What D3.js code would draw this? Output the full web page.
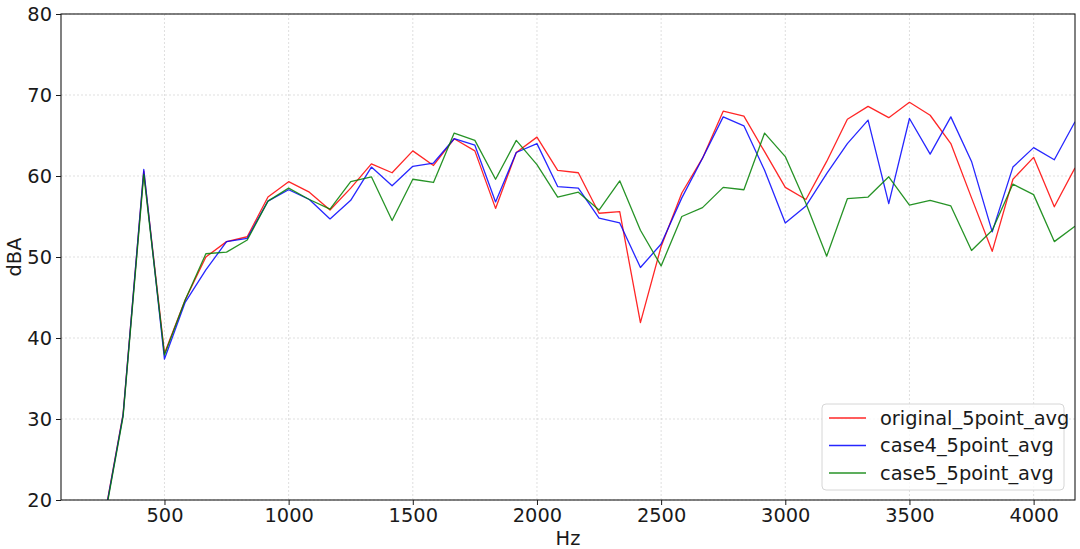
<!DOCTYPE html>
<html>
<head>
<meta charset="utf-8">
<script src="https://cdn.jsdelivr.net/npm/d3@7"></script>
<style>
  body { margin: 0; background: #fff; }
  text { font-family: "DejaVu Sans", sans-serif; fill: #1a1a1a; }
</style>
</head>
<body>
<div class="chart"></div>
<script>
const svgWidth = 1080
const svgHeight = 549
const fontSize = "19.4px"

// frequency bins (Hz)
const freqs = [250, 333.33, 416.67, 500, 583.33, 666.67, 750, 833.33, 916.67, 1000,
  1083.33, 1166.67, 1250, 1333.33, 1416.67, 1500, 1583.33, 1666.67, 1750, 1833.33,
  1916.67, 2000, 2083.33, 2166.67, 2250, 2333.33, 2416.67, 2500, 2583.33, 2666.67,
  2750, 2833.33, 2916.67, 3000, 3083.33, 3166.67, 3250, 3333.33, 3416.67, 3500,
  3583.33, 3666.67, 3750, 3833.33, 3916.67, 4000, 4083.33, 4166.67]

const original = [16.5, 30.6, 60.6, 38.1, 44.7, 50.0, 51.9, 52.5, 57.4, 59.3,
  58.0, 55.8, 58.5, 61.5, 60.4, 63.1, 61.3, 64.6, 63.1, 56.0,
  62.9, 64.8, 60.7, 60.4, 55.4, 55.6, 41.9, 51.3, 57.9, 62.2,
  68.0, 67.4, 63.0, 58.6, 57.1, 61.8, 67.0, 68.6, 67.2, 69.1,
  67.5, 64.0, 57.3, 50.7, 59.6, 62.3, 56.2, 61.0]

const case4 = [16.4, 30.5, 60.8, 37.4, 44.4, 48.4, 51.9, 52.3, 56.9, 58.3,
  57.1, 54.7, 57.0, 61.1, 58.8, 61.2, 61.6, 64.6, 63.8, 56.8,
  62.9, 64.0, 58.7, 58.5, 54.8, 54.2, 48.7, 51.6, 57.3, 62.2,
  67.3, 66.2, 60.7, 54.2, 56.3, 60.3, 64.0, 66.9, 56.6, 67.1,
  62.7, 67.3, 61.8, 53.1, 61.1, 63.5, 62.0, 66.7]

const case5 = [16.2, 30.3, 60.2, 37.9, 44.7, 50.4, 50.6, 52.1, 56.9, 58.5,
  57.1, 55.9, 59.3, 59.9, 54.5, 59.6, 59.2, 65.3, 64.4, 59.6,
  64.4, 61.4, 57.4, 58.0, 55.8, 59.4, 53.3, 48.9, 55.0, 56.1,
  58.6, 58.3, 65.3, 62.4, 56.6, 50.1, 57.2, 57.4, 59.9, 56.4,
  57.0, 56.3, 50.8, 53.3, 59.0, 57.7, 51.9, 53.8]

const seriesNames = ["original_5point_avg", "case4_5point_avg", "case5_5point_avg"]
const seriesColors = ["#ff0000", "#0000ff", "#008000"]
const seriesValues = [original, case4, case5]

const xTicks = [500, 1000, 1500, 2000, 2500, 3000, 3500, 4000]
const yTicks = [20, 30, 40, 50, 60, 70, 80]

let margin = { top: 14, right: 5, bottom: 49, left: 61 }
let width = svgWidth - margin.left - margin.right
let height = svgHeight - margin.top - margin.bottom

let svg = d3.select(".chart")
  .append("svg")
  .attr("width", svgWidth)
  .attr("height", svgHeight)

let chartGroup = svg.append("g")
  .attr("transform", `translate(${margin.left}, ${margin.top})`)

let x = d3.scaleLinear().domain([83.33, 4166.67]).range([0, width])
let y = d3.scaleLinear().domain([20, 80]).range([height, 0])

// grid
chartGroup.append("g")
  .selectAll("line")
  .data(xTicks)
  .enter()
  .append("line")
  .attr("x1", d => x(d)).attr("x2", d => x(d))
  .attr("y1", 0).attr("y2", height)
  .attr("stroke", "#b0b0b0").attr("stroke-opacity", 0.5)
  .attr("stroke-width", 0.8).attr("stroke-dasharray", "2,2")

chartGroup.append("g")
  .selectAll("line")
  .data(yTicks)
  .enter()
  .append("line")
  .attr("x1", 0).attr("x2", width)
  .attr("y1", d => y(d)).attr("y2", d => y(d))
  .attr("stroke", "#b0b0b0").attr("stroke-opacity", 0.5)
  .attr("stroke-width", 0.8).attr("stroke-dasharray", "2,2")

// clip
svg.append("defs").append("clipPath").attr("id", "plotclip")
  .append("rect").attr("width", width).attr("height", height)

let line = d3.line()
  .x((d, i) => x(freqs[i]))
  .y(d => y(d))

let linesGroup = chartGroup.append("g").attr("clip-path", "url(#plotclip)")
seriesValues.forEach((vals, i) => {
  linesGroup.append("path")
    .datum(vals)
    .attr("d", line)
    .attr("fill", "none")
    .attr("stroke", seriesColors[i])
    .attr("stroke-opacity", 0.85)
    .attr("stroke-width", 1.3)
    .attr("stroke-linejoin", "round")
})

// axes
let bottomAxis = d3.axisBottom(x).tickValues(xTicks).tickSize(5).tickPadding(3).tickFormat(d3.format("d"))
let leftAxis = d3.axisLeft(y).tickValues(yTicks).tickSize(5).tickPadding(4)

let xAxis = chartGroup.append("g")
  .attr("transform", `translate(0, ${height})`)
  .call(bottomAxis)
let yAxis = chartGroup.append("g").call(leftAxis)

;[xAxis, yAxis].forEach(ax => {
  ax.attr("font-size", null).attr("font-family", null)
  ax.select(".domain").remove()
  ax.selectAll("line").attr("stroke", "#1a1a1a").attr("stroke-width", 1)
  ax.selectAll("text").style("font-size", fontSize).attr("fill", "#1a1a1a")
})

// spines
chartGroup.append("rect")
  .attr("width", width).attr("height", height)
  .attr("fill", "none").attr("stroke", "#1a1a1a").attr("stroke-width", 1.1)

// axis labels
chartGroup.append("text")
  .attr("x", width / 2).attr("y", height + 45)
  .attr("text-anchor", "middle")
  .style("font-size", fontSize)
  .text("Hz")

chartGroup.append("text")
  .attr("transform", "rotate(-90)")
  .attr("x", -height / 2).attr("y", -40)
  .attr("text-anchor", "middle")
  .style("font-size", fontSize)
  .text("dBA")

// legend
let legend = svg.append("g").attr("transform", "translate(822, 404)")
legend.append("rect")
  .attr("width", 242).attr("height", 86).attr("rx", 4)
  .attr("fill", "#fff").attr("fill-opacity", 0.8)
  .attr("stroke", "#d6d6d6").attr("stroke-width", 1)

seriesNames.forEach((name, i) => {
  let ry = 14 + i * 27.5
  legend.append("line")
    .attr("x1", 7).attr("x2", 44).attr("y1", ry).attr("y2", ry)
    .attr("stroke", seriesColors[i]).attr("stroke-opacity", 0.85).attr("stroke-width", 1.3)
  legend.append("text")
    .attr("x", 58).attr("y", ry).attr("dy", "0.35em")
    .style("font-size", fontSize)
    .text(name)
})
</script>
</body>
</html>
